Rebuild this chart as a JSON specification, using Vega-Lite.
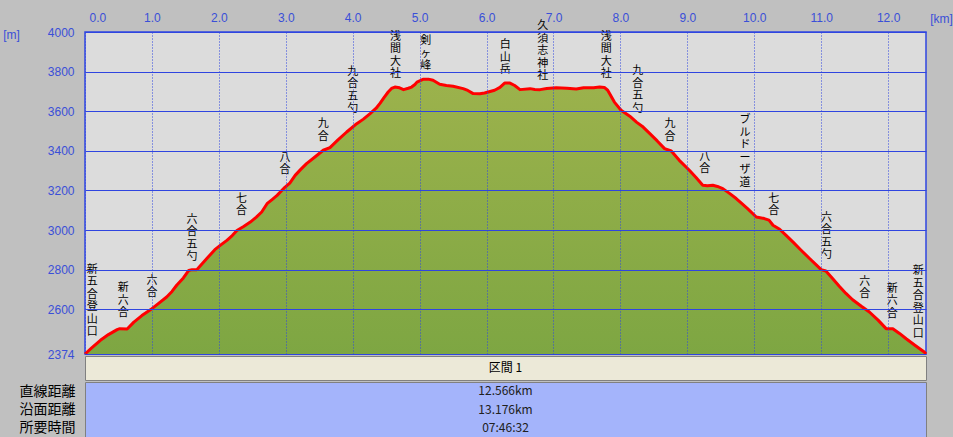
{
  "$schema": "https://vega.github.io/schema/vega-lite/v6.json",
  "background": "#c0c0c0",
  "padding": {"left": 1, "top": 10, "right": 0, "bottom": 0},
  "spacing": 2,
  "bounds": "flush",
  "datasets": {
    "profile": [
      {"km":0.00,"m":2374},{"km":0.10,"m":2405},{"km":0.23,"m":2443},{"km":0.35,"m":2472},{"km":0.48,"m":2497},
      {"km":0.52,"m":2502},{"km":0.63,"m":2500},{"km":0.73,"m":2535},{"km":0.85,"m":2568},{"km":1.00,"m":2603},
      {"km":1.10,"m":2630},{"km":1.22,"m":2662},{"km":1.30,"m":2690},{"km":1.37,"m":2721},{"km":1.47,"m":2758},
      {"km":1.55,"m":2796},{"km":1.60,"m":2800},{"km":1.67,"m":2800},{"km":1.75,"m":2830},{"km":1.82,"m":2856},
      {"km":1.94,"m":2901},{"km":2.03,"m":2925},{"km":2.12,"m":2948},{"km":2.20,"m":2972},{"km":2.27,"m":2998},
      {"km":2.37,"m":3018},{"km":2.47,"m":3040},{"km":2.56,"m":3065},{"km":2.64,"m":3091},{"km":2.72,"m":3133},
      {"km":2.80,"m":3155},{"km":2.87,"m":3175},{"km":2.99,"m":3217},{"km":3.06,"m":3237},{"km":3.14,"m":3276},
      {"km":3.22,"m":3305},{"km":3.31,"m":3335},{"km":3.44,"m":3370},{"km":3.56,"m":3403},{"km":3.66,"m":3416},
      {"km":3.78,"m":3455},{"km":3.91,"m":3495},{"km":4.06,"m":3537},{"km":4.16,"m":3560},{"km":4.26,"m":3588},
      {"km":4.35,"m":3615},{"km":4.41,"m":3641},{"km":4.47,"m":3670},{"km":4.53,"m":3697},{"km":4.58,"m":3715},
      {"km":4.63,"m":3722},{"km":4.70,"m":3718},{"km":4.76,"m":3709},{"km":4.83,"m":3716},{"km":4.88,"m":3722},
      {"km":4.93,"m":3735},{"km":4.96,"m":3747},{"km":5.05,"m":3761},{"km":5.13,"m":3762},{"km":5.20,"m":3756},
      {"km":5.30,"m":3736},{"km":5.40,"m":3730},{"km":5.50,"m":3726},{"km":5.65,"m":3714},{"km":5.72,"m":3705},
      {"km":5.80,"m":3689},{"km":5.90,"m":3688},{"km":5.97,"m":3692},{"km":6.12,"m":3706},{"km":6.20,"m":3720},
      {"km":6.27,"m":3742},{"km":6.35,"m":3742},{"km":6.42,"m":3730},{"km":6.50,"m":3709},{"km":6.65,"m":3714},
      {"km":6.72,"m":3710},{"km":6.80,"m":3709},{"km":6.90,"m":3715},{"km":7.04,"m":3719},{"km":7.20,"m":3716},
      {"km":7.34,"m":3712},{"km":7.45,"m":3718},{"km":7.60,"m":3719},{"km":7.69,"m":3722},{"km":7.76,"m":3720},
      {"km":7.81,"m":3706},{"km":7.91,"m":3646},{"km":8.01,"m":3605},{"km":8.14,"m":3575},{"km":8.24,"m":3545},
      {"km":8.34,"m":3520},{"km":8.44,"m":3487},{"km":8.55,"m":3450},{"km":8.66,"m":3411},{"km":8.76,"m":3399},
      {"km":8.88,"m":3352},{"km":9.03,"m":3302},{"km":9.13,"m":3265},{"km":9.23,"m":3226},{"km":9.30,"m":3224},
      {"km":9.38,"m":3226},{"km":9.45,"m":3220},{"km":9.53,"m":3209},{"km":9.63,"m":3185},{"km":9.73,"m":3159},
      {"km":9.82,"m":3132},{"km":9.90,"m":3108},{"km":10.03,"m":3066},{"km":10.15,"m":3058},{"km":10.22,"m":3050},
      {"km":10.28,"m":3024},{"km":10.38,"m":3004},{"km":10.48,"m":2972},{"km":10.58,"m":2939},{"km":10.70,"m":2898},
      {"km":10.83,"m":2855},{"km":10.93,"m":2823},{"km":11.00,"m":2800},{"km":11.07,"m":2793},{"km":11.17,"m":2755},
      {"km":11.27,"m":2716},{"km":11.37,"m":2680},{"km":11.47,"m":2648},{"km":11.60,"m":2615},{"km":11.72,"m":2586},
      {"km":11.85,"m":2545},{"km":11.97,"m":2502},{"km":12.07,"m":2502},{"km":12.17,"m":2478},{"km":12.27,"m":2451},
      {"km":12.40,"m":2418},{"km":12.54,"m":2384},{"km":12.566,"m":2374}
    ],
    "labels": [
      {"km":0.11,"m":2829,"name":["新","五","合","登","山","口"]},
      {"km":0.57,"m":2737,"name":["新","六","合"]},
      {"km":1.0,"m":2775,"name":["六","合"]},
      {"km":1.6,"m":3082,"name":["六","合","五","勺"]},
      {"km":2.34,"m":3189,"name":["七","合"]},
      {"km":2.99,"m":3396,"name":["八","合"]},
      {"km":3.56,"m":3565,"name":["九","合"]},
      {"km":4.0,"m":3829,"name":["九","合","五","勺"]},
      {"km":4.64,"m":4006,"name":["浅","間","大","社"]},
      {"km":5.09,"m":3984,"name":["剣","ヶ","峰"]},
      {"km":6.28,"m":3964,"name":["白","山","岳"]},
      {"km":6.84,"m":4060,"name":["久","須","志","神","社"]},
      {"km":7.79,"m":4006,"name":["浅","間","大","社"]},
      {"km":8.26,"m":3833,"name":["九","合","五","勺"]},
      {"km":8.74,"m":3564,"name":["九","合"]},
      {"km":9.26,"m":3401,"name":["八","合"]},
      {"km":9.86,"m":3585,"name":["ブ","ル","ド","ー","ザ","道"]},
      {"km":10.29,"m":3189,"name":["七","合"]},
      {"km":11.08,"m":3092,"name":["六","合","五","勺"]},
      {"km":11.65,"m":2770,"name":["六","合"]},
      {"km":12.06,"m":2735,"name":["新","六","合"]},
      {"km":12.45,"m":2823,"name":["新","五","合","登","山","口"]}
    ],
    "header": [{"section":"区間 1"}],
    "table": [
      {"item":"直線距離","value":"12.566km"},
      {"item":"沿面距離","value":"13.176km"},
      {"item":"所要時間","value":"07:46:32"}
    ]
  },
  "vconcat": [
    {
      "width": 841,
      "height": 322,
      "view": {"fill": "#dcdcdc", "stroke": "#2f45e0", "strokeWidth": 1.5},
      "layer": [
        {
          "data": {"name": "profile"},
          "mark": {"type": "area", "clip": true,
            "color": {"gradient": "linear", "x1": 0, "y1": 0, "x2": 0, "y2": 1,
              "stops": [{"offset": 0, "color": "#9cb24c"}, {"offset": 1, "color": "#4a9232"}]}},
          "encoding": {
            "x": {"field": "km", "type": "quantitative",
              "scale": {"domain": [0, 12.566], "nice": false, "zero": false},
              "axis": {"orient": "top", "values": [0,1,2,3,4,5,6,7,8,9,10,11,12], "format": ".1f",
                "grid": true, "gridDash": [1, 2], "gridColor": "#2f45e0", "gridOpacity": 1, "gridWidth": 1,
                "ticks": false, "tickSize": 0, "domain": false,
                "labelColor": "#3a4fd8", "labelFont": "Liberation Sans", "labelFontSize": 12,
                "labelPadding": 8, "labelFlush": true, "labelFlushOffset": -4, "labelOverlap": false,
                "title": "[km]", "titleX": 856, "titleY": -14, "titleAlign": "center", "titleBaseline": "middle",
                "titleAngle": 0, "titleColor": "#3a4fd8", "titleFont": "Liberation Sans", "titleFontSize": 12,
                "titleFontWeight": "normal", "zindex": 1}},
            "y": {"field": "m", "type": "quantitative",
              "scale": {"domain": [2374, 4000], "nice": false, "zero": false},
              "axis": {"values": [2374,2500,2600,2700,2800,2900,3000,3100,3200,3300,3400,3500,3600,3700,3800,3900,4000],
                "format": "d",
                "grid": true, "gridColor": "#2f45e0", "gridOpacity": 1, "gridWidth": 1,
                "ticks": false, "tickSize": 0, "domain": false,
                "labelColor": "#3a4fd8", "labelFont": "Liberation Sans", "labelFontSize": 12,
                "labelPadding": 11, "labelFlush": false, "labelOverlap": false,
                "title": "[m]", "titleX": -74, "titleY": 2, "titleAlign": "center", "titleBaseline": "middle",
                "titleAngle": 0, "titleColor": "#3a4fd8", "titleFont": "Liberation Sans", "titleFontSize": 12,
                "titleFontWeight": "normal", "zindex": 1}}
          }
        },
        {
          "data": {"name": "profile"},
          "mark": {"type": "line", "color": "#ff0000", "strokeWidth": 3, "strokeJoin": "round"},
          "encoding": {
            "x": {"field": "km", "type": "quantitative"},
            "y": {"field": "m", "type": "quantitative"}
          }
        },
        {
          "data": {"name": "labels"},
          "mark": {"type": "text", "align": "center", "baseline": "top", "font": "Noto Sans CJK JP",
            "fontSize": 11, "lineHeight": 12.5, "color": "#000000"},
          "encoding": {
            "x": {"field": "km", "type": "quantitative"},
            "y": {"field": "m", "type": "quantitative"},
            "text": {"field": "name"}
          }
        }
      ]
    },
    {
      "width": 841,
      "height": 24,
      "view": {"fill": "#ece9d8", "stroke": "#808080", "strokeWidth": 1},
      "data": {"name": "header"},
      "mark": {"type": "text", "font": "Noto Sans CJK JP", "fontSize": 12, "color": "#000000"},
      "encoding": {"text": {"field": "section"}}
    },
    {
      "width": 841,
      "height": 55,
      "view": {"fill": "#a4b4fb", "stroke": "#808080", "strokeWidth": 1},
      "data": {"name": "table"},
      "mark": {"type": "text", "font": "Noto Sans CJK JP", "fontSize": 12, "color": "#202020"},
      "encoding": {
        "y": {"field": "item", "type": "nominal", "sort": null,
          "scale": {"paddingInner": 0, "paddingOuter": 0},
          "axis": {"title": null, "ticks": false, "domain": false, "grid": false,
            "labelColor": "#000000", "labelFont": "Noto Sans CJK JP", "labelFontSize": 14, "labelPadding": 10}},
        "text": {"field": "value"}
      }
    }
  ]
}
